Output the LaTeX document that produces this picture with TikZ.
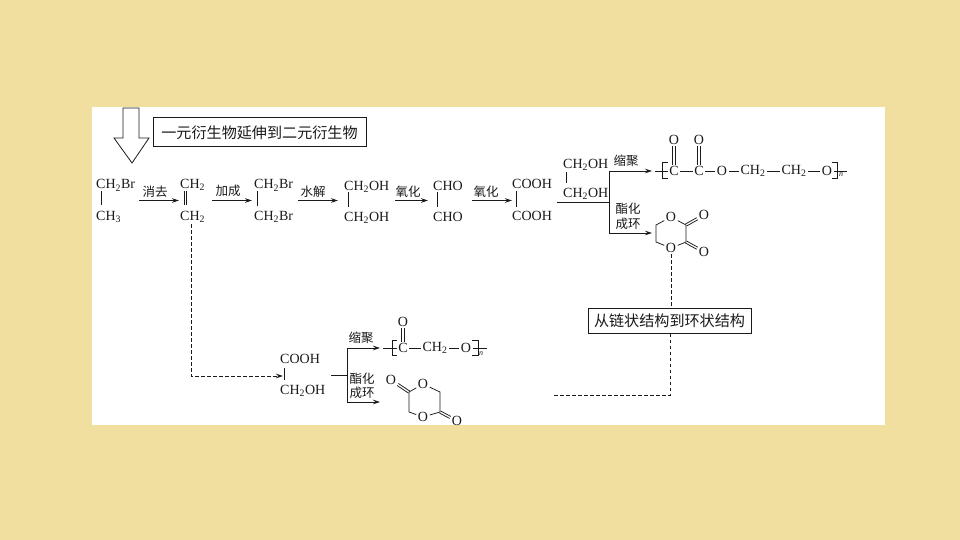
\documentclass[tikz,border=0pt]{standalone}
\usepackage{fontspec}
\setmainfont{Liberation Serif}
\newfontfamily\cjk{Noto Sans CJK SC}
\usetikzlibrary{arrows.meta}
\definecolor{pagebg}{HTML}{F0DF9E}
\definecolor{ink}{HTML}{1A1A1A}
\newcommand{\two}{\textsubscript{2}}
\tikzset{
  chem/.style={font=\fontsize{14}{14}\selectfont, text=ink, inner sep=0pt, anchor=base west},
  atom/.style={font=\fontsize{14}{14}\selectfont, text=ink, inner sep=1.5pt},
  lab/.style={font=\cjk\fontsize{12.5}{14}\selectfont, text=ink, inner sep=0pt},
  note/.style={draw=ink, line width=1pt, fill=white, font=\cjk\fontsize{15.1}{15}\selectfont, text=ink, inner sep=0pt},
  bond/.style={draw=ink, line width=0.75pt},
  offset/.style={transform canvas={shift={(#1)}}},
  rxn/.style={draw=ink, line width=0.75pt, -{Stealth[length=7pt,width=4.5pt]}},
  dashline/.style={draw=ink, line width=0.8pt, dash pattern=on 3.5pt off 2.5pt},
  subn/.style={font=\itshape\fontsize{8}{8}\selectfont, text=ink, inner sep=0pt},
}
\begin{document}
\begin{tikzpicture}[x=1pt,y=-1pt]
\useasboundingbox (0,0) rectangle (960,540);
\fill[pagebg] (0,0) rectangle (960,540);
\fill[white] (92,107) rectangle (885,425);
% big arrow
\draw[draw=ink, line width=0.8pt, fill=white] (123,108) -- (139,108) -- (139,138) -- (149,138) -- (132,163) -- (114,138) -- (123,138) -- cycle;
\node[note, minimum width=213pt, minimum height=29pt] (boxa) at (259.5,132.5) {一元衍生物延伸到二元衍生物};
% first row
\node[chem] (a1) at (96,189) {CH\two Br};
\node[chem] (a2) at (96,220) {CH\textsubscript{3}};
\coordinate (a1b) at (101,191); \coordinate (a2b) at (101,205);
\draw[bond] (a1b) -- (a2b);
\node[chem] (b1) at (180,188) {CH\two};
\node[chem] (b2) at (180,220) {CH\two};
\coordinate (b1b) at (185.2,191); \coordinate (b2b) at (185.2,205);
\draw[bond, offset={-1.2,0}] (b1b) -- (b2b);
\draw[bond, offset={1.2,0}] (b1b) -- (b2b);
\node[chem] (c1) at (254,189) {CH\two Br};
\node[chem] (c2) at (254,220) {CH\two Br};
\coordinate (c1b) at (257,191); \coordinate (c2b) at (257,206);
\draw[bond] (c1b) -- (c2b);
\node[chem] (d1) at (344,190) {CH\two OH};
\node[chem] (d2) at (344,221) {CH\two OH};
\coordinate (d1b) at (348,192); \coordinate (d2b) at (348,207);
\draw[bond] (d1b) -- (d2b);
\node[chem] (e1) at (433,190) {CHO};
\node[chem] (e2) at (433,221) {CHO};
\coordinate (e1b) at (437,192); \coordinate (e2b) at (437,207);
\draw[bond] (e1b) -- (e2b);
\node[chem] (f1) at (512,188) {COOH};
\node[chem] (f2) at (512,220) {COOH};
\coordinate (f1b) at (516,191); \coordinate (f2b) at (516,207);
\draw[bond] (f1b) -- (f2b);
\node[chem] (g1) at (563,168) {CH\two OH};
\node[chem] (g2) at (563,197) {CH\two OH};
\coordinate (g1b) at (566,172); \coordinate (g2b) at (566,183);
\draw[bond] (g1b) -- (g2b);
% first-row arrows
\coordinate (r1s) at (139,200.5); \coordinate (r1e) at (179,200.5);
\coordinate (r2s) at (212,200.5); \coordinate (r2e) at (252,200.5);
\coordinate (r3s) at (298,200.5); \coordinate (r3e) at (338,200.5);
\coordinate (r4s) at (395,200.5); \coordinate (r4e) at (428,200.5);
\coordinate (r5s) at (472,200.5); \coordinate (r5e) at (512,200.5);
\draw[rxn] (r1s) -- (r1e);
\draw[rxn] (r2s) -- (r2e);
\draw[rxn] (r3s) -- (r3e);
\draw[rxn] (r4s) -- (r4e);
\draw[rxn] (r5s) -- (r5e);
\node[lab] (l1) at (155,192) {消去};
\node[lab] (l2) at (228,191) {加成};
\node[lab] (l3) at (313,192) {水解};
\node[lab] (l4) at (408,192) {氧化};
\node[lab] (l5) at (486,192) {氧化};
% upper branch
\coordinate (u0) at (557,202); \coordinate (uj) at (609,202);
\coordinate (ut) at (609,171); \coordinate (ub) at (609,233);
\coordinate (uta) at (652,171); \coordinate (uba) at (652,233);
\draw[bond] (u0) -- (uj);
\draw[rxn] (uj) -- (ut) -- (uta);
\draw[rxn] (uj) -- (ub) -- (uba);
\node[lab] (l6) at (626,161) {缩聚};
\node[lab] (l7) at (628,209) {酯化};
\node[lab] (l8) at (628,224) {成环};
% upper polymer
\coordinate (p0) at (655,171); \coordinate (p9) at (847,171);
\node[atom] (pc1) at (674,171) {C};
\node[atom] (pc2) at (699,171) {C};
\node[atom] (po1) at (722,171) {O};
\node[atom] (pc3) at (753,171) {CH\two};
\node[atom] (pc4) at (794,171) {CH\two};
\node[atom] (po2) at (827,171) {O};
\node[atom] (po3) at (674,140) {O};
\node[atom] (po4) at (699,140) {O};
\draw[bond] (p0) -- (pc1) -- (pc2) -- (po1) -- (pc3) -- (pc4) -- (po2) -- (p9);
\draw[bond, offset={-1.2,0}] (pc1) -- (po3);
\draw[bond, offset={1.2,0}] (pc1) -- (po3);
\draw[bond, offset={-1.2,0}] (pc2) -- (po4);
\draw[bond, offset={1.2,0}] (pc2) -- (po4);
\draw[bond] (668,162) -- (662,162) -- (662,178) -- (668,178);
\draw[bond] (832,162) -- (837,162) -- (837,178) -- (832,178);
\node[subn] (pn) at (841,175) {n};
% upper ring
\node[atom] (ro1) at (671,217) {O};
\node[atom] (ro2) at (671,248) {O};
\node[atom] (ro3) at (704,215) {O};
\node[atom] (ro4) at (704,252) {O};
\coordinate (rc1) at (656,225); \coordinate (rc2) at (656,242);
\coordinate (rc3) at (686,225); \coordinate (rc4) at (686,242);
\draw[bond] (ro1) -- (rc1) -- (rc2) -- (ro2) -- (rc4) -- (rc3) -- (ro1);
\draw[bond, offset={-0.6,-1}] (rc3) -- (ro3);
\draw[bond, offset={0.6,1}] (rc3) -- (ro3);
\draw[bond, offset={0.6,-1}] (rc4) -- (ro4);
\draw[bond, offset={-0.6,1}] (rc4) -- (ro4);
% dashed guide and note
\node[note, minimum width=163pt, minimum height=25pt] (boxb) at (669.5,320.5) {从链状结构到环状结构};
\coordinate (dc) at (670,395); \coordinate (de) at (553,395);
\draw[dashline] (ro2.south) -- (ro2.south |- boxb.north);
\draw[dashline] (boxb.south -| dc) -- (dc) -- (de);
% lower structures
\node[chem] (h1) at (280,363) {COOH};
\node[chem] (h2) at (280,394) {CH\two OH};
\coordinate (h1b) at (284,368); \coordinate (h2b) at (284,380);
\draw[bond] (h1b) -- (h2b);
\coordinate (b2d) at (191,224);
\coordinate (hd) at (191,376); \coordinate (he) at (283,376);
\draw[dashline, -{Stealth[length=7pt,width=4.5pt]}] (b2d) -- (hd) -- (he);
\coordinate (v0) at (331,375); \coordinate (vj) at (347,375);
\coordinate (vt) at (347,348); \coordinate (vb) at (347,402);
\coordinate (vta) at (380,348); \coordinate (vba) at (380,402);
\draw[bond] (v0) -- (vj);
\draw[rxn] (vj) -- (vt) -- (vta);
\draw[rxn] (vj) -- (vb) -- (vba);
\node[lab] (l9) at (361,338) {缩聚};
\node[lab] (l10) at (362,379) {酯化};
\node[lab] (l11) at (362,393) {成环};
% lower polymer
\coordinate (q0) at (383,348); \coordinate (q9) at (487,348);
\node[atom] (qc1) at (403,348) {C};
\node[atom] (qc2) at (435,348) {CH\two};
\node[atom] (qo1) at (466,348) {O};
\node[atom] (qo2) at (403,322) {O};
\draw[bond] (q0) -- (qc1) -- (qc2) -- (qo1) -- (q9);
\draw[bond, offset={-1.2,0}] (qc1) -- (qo2);
\draw[bond, offset={1.2,0}] (qc1) -- (qo2);
\draw[bond] (397,340) -- (392,340) -- (392,355) -- (397,355);
\draw[bond] (472,340) -- (478,340) -- (478,355) -- (472,355);
\node[subn] (qn) at (481,354) {n};
% lower ring
\node[atom] (so1) at (423,384) {O};
\node[atom] (so2) at (423,417) {O};
\node[atom] (so3) at (391,380) {O};
\node[atom] (so4) at (457,421) {O};
\coordinate (sc1) at (409,392); \coordinate (sc2) at (409,412);
\coordinate (sc3) at (440,392); \coordinate (sc4) at (440,412);
\draw[bond] (so1) -- (sc1) -- (sc2) -- (so2) -- (sc4) -- (sc3) -- (so1);
\draw[bond, offset={0.6,-1}] (sc1) -- (so3);
\draw[bond, offset={-0.6,1}] (sc1) -- (so3);
\draw[bond, offset={0.6,-1}] (sc4) -- (so4);
\draw[bond, offset={-0.6,1}] (sc4) -- (so4);
\end{tikzpicture}
\end{document}
